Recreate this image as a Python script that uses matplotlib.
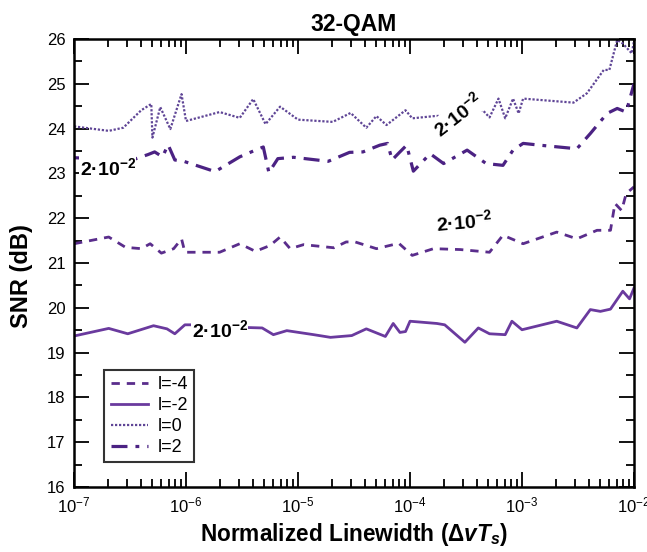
import numpy as np
import matplotlib
matplotlib.use("Agg")
import matplotlib.pyplot as plt
from matplotlib.ticker import LogLocator, MultipleLocator, NullFormatter

plt.rcParams['font.family'] = ['Liberation Sans', 'DejaVu Sans']
plt.rcParams['mathtext.fontset'] = 'custom'
plt.rcParams['mathtext.rm'] = 'Liberation Sans'
plt.rcParams['mathtext.it'] = 'Liberation Sans:italic:bold'
plt.rcParams['mathtext.bf'] = 'Liberation Sans:bold'

# log10 of normalized linewidth and SNR (dB) for each OAM mode l
exp_m4 = [-7.00, -6.69, -6.54, -6.40, -6.32, -6.22, -6.11, -6.04, -6.01, -5.70,
          -5.52, -5.38, -5.25, -5.16, -5.07, -4.95, -4.68, -4.57, -4.49, -4.30,
          -4.10, -3.98, -3.79, -3.55, -3.29, -3.17, -2.99, -2.69, -2.51, -2.33,
          -2.21, -2.17, -2.11, -2.07, -2.00]
snr_m4 = [21.43, 21.58, 21.35, 21.32, 21.43, 21.22, 21.32, 21.54, 21.24, 21.24,
          21.43, 21.26, 21.39, 21.58, 21.32, 21.41, 21.34, 21.47, 21.47, 21.32,
          21.44, 21.17, 21.32, 21.30, 21.24, 21.62, 21.43, 21.69, 21.54, 21.73,
          21.73, 22.33, 22.17, 22.55, 22.70]

exp_m2 = [-7.00, -6.69, -6.52, -6.29, -6.17, -6.10, -6.01, -5.93, -5.70, -5.46,
          -5.32, -5.22, -5.10, -4.86, -4.71, -4.52, -4.39, -4.22, -4.15, -4.09,
          -4.04, -4.00, -3.76, -3.69, -3.51, -3.39, -3.29, -3.15, -3.09, -3.00,
          -2.69, -2.51, -2.39, -2.30, -2.21, -2.10, -2.04, -2.00]
snr_m2 = [19.37, 19.54, 19.42, 19.60, 19.53, 19.42, 19.62, 19.62, 19.60, 19.56,
          19.55, 19.40, 19.49, 19.40, 19.34, 19.38, 19.53, 19.36, 19.65, 19.45,
          19.47, 19.70, 19.65, 19.62, 19.23, 19.55, 19.42, 19.40, 19.70, 19.51,
          19.70, 19.55, 19.96, 19.92, 19.97, 20.37, 20.20, 20.44]

exp_0 = [-7.00, -6.69, -6.56, -6.40, -6.31, -6.30, -6.23, -6.14, -6.04, -6.00,
         -5.70, -5.52, -5.40, -5.29, -5.16, -5.00, -4.69, -4.53, -4.39, -4.30,
         -4.21, -4.04, -3.98, -3.78, -3.60, -3.45, -3.35, -3.29, -3.21, -3.15,
         -3.08, -3.03, -2.99, -2.54, -2.42, -2.27, -2.22, -2.15, -2.10, -2.02,
         -2.00]
snr_0 = [24.05, 23.95, 24.02, 24.41, 24.55, 23.80, 24.48, 23.99, 24.77, 24.17,
         24.37, 24.24, 24.66, 24.10, 24.49, 24.20, 24.15, 24.35, 24.02, 24.28,
         24.08, 24.41, 24.23, 24.28, 24.30, 24.35, 24.41, 24.25, 24.67, 24.23,
         24.67, 24.34, 24.67, 24.58, 24.79, 25.31, 25.31, 25.98, 25.90, 25.68,
         25.95]

exp_p2 = [-7.00, -6.48, -6.34, -6.28, -6.21, -6.16, -6.10, -6.02, -5.74, -5.52,
          -5.38, -5.31, -5.26, -5.18, -5.04, -4.73, -4.54, -4.42, -4.27, -4.20,
          -4.16, -4.09, -4.03, -3.97, -3.82, -3.70, -3.49, -3.32, -3.17, -3.08,
          -2.99, -2.84, -2.51, -2.39, -2.24, -2.15, -2.07, -2.00]
snr_p2 = [23.35, 23.30, 23.42, 23.48, 23.37, 23.64, 23.30, 23.27, 23.04, 23.37,
          23.52, 23.59, 23.02, 23.33, 23.36, 23.27, 23.47, 23.48, 23.63, 23.67,
          23.30, 23.48, 23.63, 23.05, 23.44, 23.22, 23.52, 23.22, 23.18, 23.52,
          23.67, 23.63, 23.55, 23.89, 24.34, 24.45, 24.37, 25.00]

legend_labels = ['l=-4', 'l=-2', 'l=0', 'l=2']
note_text = '2·10$^{\\mathbf{-2}}$'
note_x = [-3.52, -5.70, -3.57, -6.70]
note_y = [21.92, 19.50, 24.30, 23.12]
note_rot = [5, 0, 38, 0]

color = '#5a2d8c'

fig = plt.figure(figsize=(6.47, 5.52), dpi=100)
ax = fig.add_axes([0.1144, 0.1178, 0.8655, 0.8115])

ax.plot(np.power(10.0, exp_m4), snr_m4, color=color, lw=2.0,
        linestyle=(0, (3, 2.5)), label=legend_labels[0])
ax.plot(np.power(10.0, exp_m2), snr_m2, color='#6a3a9e', lw=2.0,
        linestyle='-', label=legend_labels[1])
ax.plot(np.power(10.0, exp_0), snr_0, color='#5f4596', lw=1.6,
        linestyle=(0, (1, 0.8)), label=legend_labels[2])
ax.plot(np.power(10.0, exp_p2), snr_p2, color='#4b2283', lw=2.3,
        linestyle=(0, (5, 2.5, 1.2, 2.5)), label=legend_labels[3])

for x, y, r in zip(note_x, note_y, note_rot):
    ax.text(10 ** x, y, note_text, fontsize=14, fontweight='bold',
            ha='center', va='center', rotation=r, zorder=5,
            bbox=dict(facecolor='white', edgecolor='none', pad=0.5))

ax.set_xscale('log')
ax.set_xlim(1e-7, 1e-2)
ax.set_ylim(16, 26)
ax.xaxis.set_major_locator(LogLocator(base=10, numticks=10))
ax.xaxis.set_minor_locator(LogLocator(base=10, subs=np.arange(2, 10), numticks=20))
ax.xaxis.set_minor_formatter(NullFormatter())
ax.yaxis.set_major_locator(MultipleLocator(1))
ax.yaxis.set_minor_locator(MultipleLocator(0.5))

ax.tick_params(which='both', direction='in', top=True, right=True,
               labelsize=12, width=1.3, pad=6)
ax.tick_params(which='major', length=11)
ax.tick_params(which='minor', length=6)
for s in ax.spines.values():
    s.set_linewidth(1.8)

ax.set_title('32-QAM', fontsize=16.5, fontweight='bold', pad=6)
ax.set_xlabel('Normalized Linewidth ($\\mathbf{\\Delta}vT_s$)',
              fontsize=16.3, fontweight='bold', labelpad=4)
ax.set_ylabel('SNR (dB)', fontsize=17, fontweight='bold')
ax.yaxis.set_label_coords(-0.073, 0.47)

leg = ax.legend(loc='lower left', bbox_to_anchor=(0.054, 0.055),
                fontsize=13, frameon=True, fancybox=False, borderaxespad=0,
                handlelength=2.1, handletextpad=0.5, labelspacing=0.22,
                borderpad=0.35)
leg.get_frame().set_edgecolor('black')
leg.get_frame().set_linewidth(1.5)

fig.savefig('out.png', dpi=100)
